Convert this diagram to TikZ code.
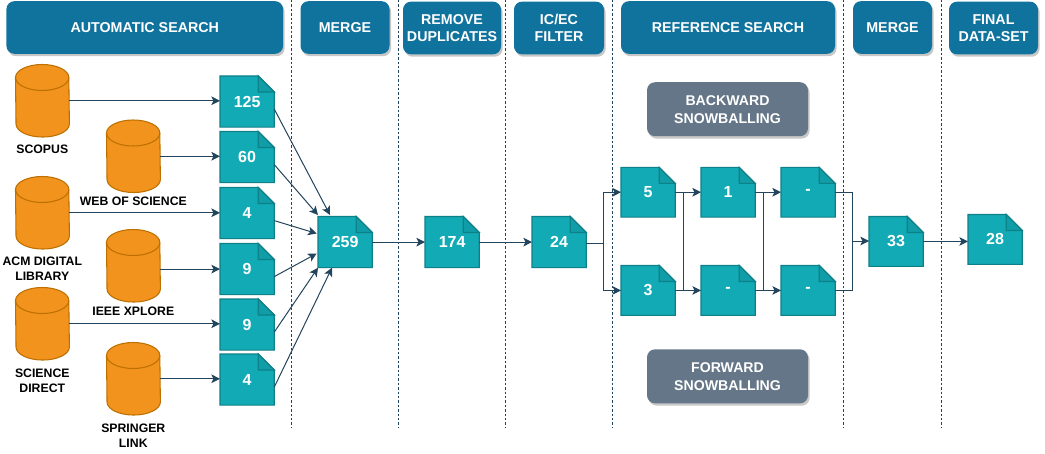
\documentclass[tikz,border=0pt]{standalone}
\usepackage{fontspec}
\setmainfont{Liberation Sans}
\usetikzlibrary{arrows.meta,calc,shadows,backgrounds}
\definecolor{hdr}{HTML}{10739E}
\definecolor{teal}{HTML}{12AAB5}
\definecolor{tealb}{HTML}{0E8088}
\definecolor{orng}{HTML}{F2931E}
\definecolor{orngb}{HTML}{BD7000}
\definecolor{slate}{HTML}{647687}
\definecolor{wire}{HTML}{23445D}
\tikzset{
  x=0.75pt,y=-0.75pt,
  softshadow/.style={general shadow={shadow xshift=1.2pt,shadow yshift=-1.8pt,fill=black,opacity=0.22}},
  hdrbox/.style={rectangle,rounded corners=6pt,fill=hdr,softshadow,text=white,align=center,inner sep=0pt,
    font=\fontsize{10.7}{13}\selectfont\bfseries,minimum height=39.5pt},
  snowbox/.style={rectangle,rounded corners=6pt,fill=slate,softshadow,text=white,align=center,inner sep=0pt,
    font=\fontsize{10.6}{13.5}\selectfont\bfseries,minimum width=120.75pt,minimum height=40.5pt},
  docbox/.style={rectangle,inner sep=0pt,anchor=north west,minimum width=40.3pt,minimum height=38pt,text=white,
    font=\fontsize{12}{14}\selectfont\bfseries},
  docshort/.style={minimum height=37pt},
  docshape/.style={fill=teal,draw=tealb,line width=0.8pt},
  docfold/.style={fill=tealb,fill opacity=0.3,draw=tealb,line width=0.8pt},
  cylbox/.style={rectangle,inner sep=0pt,anchor=north west,minimum width=40pt,minimum height=54pt},
  cylshape/.style={fill=orng,draw=orngb,line width=0.8pt},
  dblabel/.style={align=center,inner sep=0pt,text=black,font=\fontsize{9.2}{11}\selectfont\bfseries},
  divider/.style={draw=wire,line width=0.7pt,dash pattern=on 1.8pt off 1.5pt},
  wirearrow/.style={draw=wire,line width=0.75pt,-{Stealth[length=6.5pt,width=6.5pt,inset=1.6pt]}},
  wireline/.style={draw=wire,line width=0.75pt},
}
\newcommand{\docnode}[5][]{%
  \node[docbox,#1] (#2) at (#3,#4) {#5};
  \begin{pgfonlayer}{background}
    \path[docshape] (#2.north west) -- ($(#2.north east)+(-16,0)$) -- ($(#2.north east)+(0,16)$) -- (#2.south east) -- (#2.south west) -- cycle;
    \path[docfold] ($(#2.north east)+(-16,0)$) -- ($(#2.north east)+(-16,16)$) -- ($(#2.north east)+(0,16)$) -- cycle;
  \end{pgfonlayer}}
\newcommand{\cylnode}[3]{%
  \node[cylbox] (#1) at (#2,#3) {};
  \begin{pgfonlayer}{background}
    \path[cylshape] ($(#1.north west)+(0,13)$) arc[start angle=180,end angle=0,x radius=20pt,y radius=9.75pt]
       -- ($(#1.south east)+(0,-13)$) arc[start angle=0,end angle=-180,x radius=20pt,y radius=9.75pt] -- cycle;
    \path[draw=orngb,line width=0.8pt] ($(#1.north west)+(0,13)$) arc[start angle=180,end angle=360,x radius=20pt,y radius=9.75pt];
  \end{pgfonlayer}}
\begin{document}
\begin{tikzpicture}
\useasboundingbox (0,0) rectangle (1045,453);

% Section headers
\node[hdrbox,minimum width=207.5pt] (hAuto) at (144.75,27.5) {AUTOMATIC SEARCH};
\node[hdrbox,minimum width=66.75pt] (hMergeA) at (345,27.5) {MERGE};
\node[hdrbox,minimum width=73.5pt] (hDup) at (452,28) {REMOVE\\DUPLICATES};
\node[hdrbox,minimum width=67.5pt] (hFilter) at (559,28) {IC/EC\\FILTER};
\node[hdrbox,minimum width=160.5pt] (hRef) at (728,27.5) {REFERENCE SEARCH};
\node[hdrbox,minimum width=59.25pt] (hMergeB) at (892.5,27.5) {MERGE};
\node[hdrbox,minimum width=66.75pt] (hFinal) at (993.5,28) {FINAL\\DATA-SET};

% Dividers
\foreach \nm/\xx in {a/291.5,b/398.5,c/505,d/612.5,e/843.5,f/941}{
  \coordinate (dt\nm) at (\xx,0);
  \coordinate (db\nm) at (\xx,428);
  \draw[divider] (dt\nm) -- (db\nm);
}

% Sources
\cylnode{cScopus}{15.5}{64.5}
\cylnode{cWos}{106.5}{120}
\cylnode{cAcm}{15.5}{176.5}
\cylnode{cIeee}{106.5}{229.5}
\cylnode{cSd}{15.5}{287.5}
\cylnode{cSpr}{106.5}{342.5}
\node[dblabel] (lScopus) at (42.3,149) {SCOPUS};
\node[dblabel] (lWos) at (133.3,201) {WEB OF SCIENCE};
\node[dblabel] (lAcm) at (42.3,268.5) {ACM DIGITAL\\LIBRARY};
\node[dblabel] (lIeee) at (133.3,311) {IEEE XPLORE};
\node[dblabel] (lSd) at (42.3,380.5) {SCIENCE\\DIRECT};
\node[dblabel] (lSpr) at (133.3,435.5) {SPRINGER\\LINK};

% Documents
\docnode{d125}{220}{76}{125}
\docnode{d60}{220}{131.5}{60}
\docnode{d4a}{220}{187.5}{4}
\docnode{d9a}{220}{243.5}{9}
\docnode{d9b}{220}{299}{9}
\docnode{d4b}{220}{354}{4}
\docnode{dMerge}{318}{216.5}{259}
\docnode{dDup}{425}{216.5}{174}
\docnode{dFilter}{532}{216.5}{24}
\docnode[docshort]{dB1}{621}{167.3}{5}
\docnode[docshort]{dF1}{621}{265.5}{3}
\docnode[docshort]{dB2}{701}{167.3}{1}
\docnode[docshort]{dF2}{701}{265.5}{-}
\docnode[docshort]{dB3}{781}{167.3}{-}
\docnode[docshort]{dF3}{781}{265.5}{-}
\docnode[docshort]{dMergeB}{869}{216.5}{33}
\docnode[docshort]{dFinal}{968}{214.5}{28}

% Snowballing labels
\node[snowbox] (sBack) at (727.5,109.2) {BACKWARD\\SNOWBALLING};
\node[snowbox] (sFwd) at (727.5,376.3) {FORWARD\\SNOWBALLING};

% Connectors
\draw[wirearrow] (cScopus.east) -- (cScopus.east -| d125.west);
\draw[wirearrow] (cWos.east) -- (cWos.east -| d60.west);
\draw[wirearrow] (cAcm.east) -- (cAcm.east -| d4a.west);
\draw[wirearrow] (cIeee.east |- d9a.west) -- (d9a.west);
\draw[wirearrow] (cSd.east) -- (cSd.east -| d9b.west);
\draw[wirearrow] (cSpr.east) -- (cSpr.east -| d4b.west);

\foreach \dd in {d125,d60,d4a,d9a,d9b,d4b}{
  \coordinate (\dd out) at ($(\dd.east)+(0,7.5)$);
}
\coordinate (in1) at ($(dMerge.north west)+(12,-1.5)$);
\coordinate (in2) at ($(dMerge.north west)+(0,-1.5)$);
\coordinate (in3) at ($(dMerge.north west)+(-1.3,17)$);
\coordinate (in4) at ($(dMerge.north west)+(-1.3,37)$);
\coordinate (in5) at ($(dMerge.south west)+(0,0)$);
\coordinate (in6) at ($(dMerge.south west)+(14,0)$);
\draw[wirearrow] (d125out) -- (in1);
\draw[wirearrow] (d60out) -- (in2);
\draw[wirearrow] (d4aout) -- (in3);
\draw[wirearrow] (d9aout) -- (in4);
\draw[wirearrow] (d9bout) -- (in5);
\draw[wirearrow] (d4bout) -- (in6);

\draw[wirearrow] (dMerge.east) -- (dDup.west);
\draw[wirearrow] (dDup.east) -- (dFilter.west);

\coordinate (split) at (603,243.5);
\draw[wireline] (split -| dFilter.east) -- (split);
\draw[wirearrow] (split) |- (dB1.west);
\draw[wirearrow] (split) |- (dF1.west);

\draw[wirearrow] (dB1.east) -- (dB2.west);
\draw[wirearrow] (dF1.east) -- (dF2.west);
\draw[wirearrow] (dB2.east) -- (dB3.west);
\draw[wirearrow] (dF2.east) -- (dF3.west);
\coordinate (v1t) at ($(dB1.east)!0.33!(dB2.west)$);
\coordinate (v2t) at ($(dB2.east)!0.33!(dB3.west)$);
\draw[wireline] (v1t) -- (v1t |- dF1.east);
\draw[wireline] (v2t) -- (v2t |- dF2.east);

\coordinate (join) at (852.7,241);
\draw[wireline] (dB3.east) -| (join);
\draw[wireline] (dF3.east) -| (join);
\draw[wirearrow] (join) -- (join -| dMergeB.west);
\draw[wirearrow] (dMergeB.east) -- (dMergeB.east -| dFinal.west);
\end{tikzpicture}
\end{document}
